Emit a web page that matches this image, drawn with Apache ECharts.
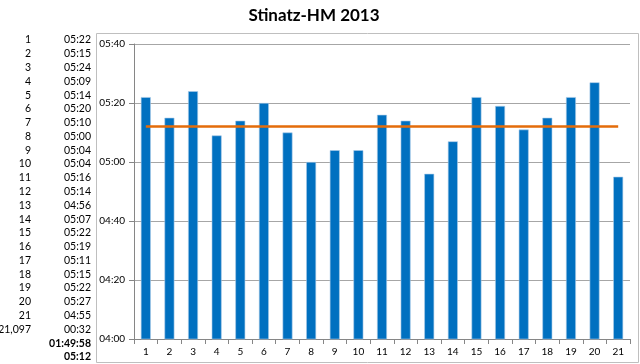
<!DOCTYPE html>
<html lang="en">
<head>
    <meta charset="UTF-8">
    <title>Stinatz-HM 2013</title>
    <style>
        html,
        body {
            margin: 0;
            padding: 0;
            width: 100%;
            height: 100%;
            background: #fff;
        }

        #canvas {
            width: 640px;
            height: 364px;
        }
    </style>
</head>
<body>
<div id="canvas"></div>
</body>
<script src="https://cdn.jsdelivr.net/npm/echarts@6/dist/echarts.min.js"></script>
<script>

    // km splits
    const kmLabels = ['1', '2', '3', '4', '5', '6', '7', '8', '9', '10', '11', '12', '13', '14', '15', '16', '17', '18', '19', '20', '21', '21,097']
    const kmTimes = ['05:22', '05:15', '05:24', '05:09', '05:14', '05:20', '05:10', '05:00', '05:04', '05:04', '05:16',
        '05:14', '04:56', '05:07', '05:22', '05:19', '05:11', '05:15', '05:22', '05:27', '04:55', '00:32']
    const totalTime = '01:49:58'
    const avgPace = '05:12'

    const categories = kmLabels.slice(0, 21)
    const yTicks = { min: 240, max: 340, interval: 20 }

    function toSec(t) {
        const p = t.split(':').map(Number)
        return p[0] * 60 + p[1]
    }

    function fmt(v) {
        const m = Math.floor(v / 60)
        const s = v % 60
        return String(m).padStart(2, '0') + ':' + String(s).padStart(2, '0')
    }

    const splitSec = kmTimes.slice(0, 21).map(toSec)
    const avgSec = categories.map(() => toSec(avgPace))

    // table on the left
    const rowTop = 40
    const rowStep = 13.78
    const tableFont = '10.5px Lato, "Liberation Sans", sans-serif'
    const graphic = []
    kmLabels.forEach((lab, i) => {
        graphic.push({
            type: 'text', x: 31, y: rowTop + i * rowStep,
            style: { text: lab, align: 'right', verticalAlign: 'middle', font: tableFont, fill: '#000' }
        })
        graphic.push({
            type: 'text', x: 91, y: rowTop + i * rowStep,
            style: { text: kmTimes[i], align: 'right', verticalAlign: 'middle', font: tableFont, fill: '#000' }
        })
    })
    graphic.push({
        type: 'text', x: 91, y: rowTop + 22 * rowStep,
        style: { text: totalTime, align: 'right', verticalAlign: 'middle', font: 'bold ' + tableFont, fill: '#000' }
    })
    graphic.push({
        type: 'text', x: 91, y: rowTop + 23 * rowStep,
        style: { text: avgPace, align: 'right', verticalAlign: 'middle', font: 'bold ' + tableFont, fill: '#000' }
    })
    // chart frame
    graphic.push({
        type: 'rect', shape: { x: 96.5, y: 33.5, width: 542, height: 329 }, z: -1,
        style: { fill: 'none', stroke: '#bfbfbf', lineWidth: 1 }
    })

    const myChart = echarts.init(document.getElementById('canvas'))

    myChart.setOption({
        animation: false,
        title: {
            text: 'Stinatz-HM 2013',
            left: 309,
            top: 2,
            textAlign: 'center',
            textStyle: {
                fontFamily: 'Lato, "Liberation Sans", sans-serif',
                fontWeight: 'bold',
                fontSize: 17,
                color: '#000'
            }
        },
        grid: {
            left: 134,
            right: 10,
            top: 44,
            bottom: 25
        },
        xAxis: {
            type: 'category',
            data: categories,
            axisLine: { lineStyle: { color: '#868686' } },
            axisTick: { show: true, lineStyle: { color: '#868686' } },
            axisLabel: {
                color: '#000', fontSize: 10, margin: 8,
                fontFamily: 'Lato, "Liberation Sans", sans-serif'
            }
        },
        yAxis: {
            type: 'value',
            min: yTicks.min,
            max: yTicks.max,
            interval: yTicks.interval,
            axisLine: { show: true, lineStyle: { color: '#868686' } },
            axisTick: { show: true, length: 5, lineStyle: { color: '#868686' } },
            splitLine: { lineStyle: { color: '#a6a6a6' } },
            axisLabel: {
                color: '#000', fontSize: 10, margin: 9,
                fontFamily: 'Lato, "Liberation Sans", sans-serif',
                formatter: fmt
            }
        },
        graphic,
        series: [
            {
                type: 'bar',
                data: splitSec,
                barWidth: '42%',
                itemStyle: { color: '#0070c0', borderColor: '#a9cbe8', borderWidth: 0.6 }
            },
            {
                type: 'line',
                data: avgSec,
                symbol: 'none',
                lineStyle: { color: '#e46c0a', width: 2.5 },
                z: 5
            }
        ]
    })
</script>
</html>
